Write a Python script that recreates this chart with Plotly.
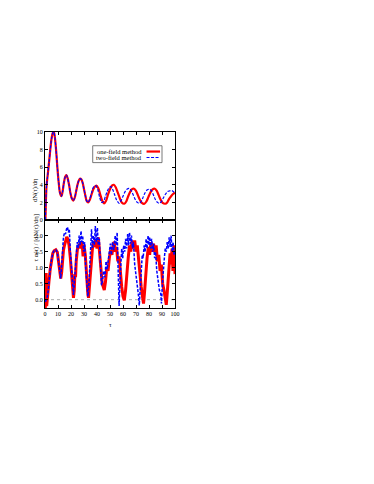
import plotly.graph_objects as go

# ---------------- data ----------------
# top panel: dN/deta
tau_top_one = [0.3, 1.2, 2, 3, 4, 5, 6, 6.8, 7.5, 8.5, 9.5, 10.5, 11.5, 12.6, 13.5, 14.5, 15.5, 16.5,
               17.5, 18.5, 19.5, 20.5, 21.8, 23, 24, 25, 26, 27, 28, 29, 30, 31, 32, 33.2, 34.5, 36,
               37.5, 39.5, 41, 42.5, 44, 45.5, 47, 48.5, 50, 51.5, 53, 54.5, 56, 57.5, 59, 61, 62.5,
               64, 65.5, 67, 68.5, 70, 71.5, 73, 74.5, 76.5, 78, 79.5, 81, 82.5, 84.5, 86, 87.5, 89,
               90.5, 92.5, 94, 95.5, 97, 98.5, 100]
dn_one = [0, 3.9, 5.0, 6.4, 7.9, 9.2, 9.9, 10.0, 9.5, 8.0, 6.0, 4.3, 3.1, 2.7, 3.2, 4.2, 4.9, 5.1,
          4.7, 4.0, 3.1, 2.5, 2.2, 2.6, 3.3, 4.0, 4.5, 4.7, 4.6, 4.2, 3.5, 2.8, 2.2, 2.0, 2.3, 3.0,
          3.6, 3.9, 3.6, 2.9, 2.2, 1.9, 2.2, 2.9, 3.5, 3.9, 4.0, 3.7, 3.1, 2.5, 2.0, 1.85, 2.1,
          2.7, 3.2, 3.5, 3.55, 3.3, 2.8, 2.3, 1.95, 1.85, 2.1, 2.6, 3.1, 3.45, 3.55, 3.3, 2.8, 2.3,
          1.95, 1.85, 2.0, 2.4, 2.7, 2.95, 3.1]

tau_top_two = [0.3, 1.2, 2, 3, 4, 5, 6, 6.8, 7.5, 8.5, 9.5, 10.5, 11.5, 12.6, 13.5, 14.5, 15.5, 16.5,
               17.5, 18.5, 19.5, 20.5, 21.8, 23, 24, 25, 26, 27, 28, 29, 30, 31, 32, 33.2, 34.5, 36,
               37.5, 39, 40.5, 42, 43.5, 45, 46.5, 48, 49.5, 50.7, 52, 53.5, 55, 57, 58.5, 60, 61.5,
               63, 64.8, 66.5, 68, 69.5, 71, 72.5, 74, 75.5, 77, 78.5, 80.3, 82, 83.5, 85, 86.5, 88,
               89.5, 91, 92.5, 94, 95.5, 97.5, 99, 100]
dn_two = [0, 3.9, 5.0, 6.4, 7.9, 9.2, 9.9, 10.0, 9.5, 8.0, 6.0, 4.3, 3.1, 2.7, 3.2, 4.2, 4.9, 5.1,
          4.7, 4.0, 3.1, 2.5, 2.2, 2.6, 3.3, 4.0, 4.5, 4.7, 4.6, 4.2, 3.5, 2.8, 2.2, 2.0, 2.4, 3.2,
          3.8, 3.9, 3.5, 2.6, 2.0, 2.1, 2.7, 3.3, 3.7, 3.8, 3.5, 2.9, 2.3, 1.9, 2.2, 2.7, 3.2,
          3.5, 3.6, 3.3, 2.8, 2.3, 2.0, 1.9, 2.1, 2.6, 3.1, 3.4, 3.5, 3.3, 2.8, 2.3, 2.0, 1.9,
          2.1, 2.5, 2.9, 3.2, 3.3, 3.35, 3.2, 3.05]

# bottom panel: tau*alpha / (dN/deta)
tau_bot_one = [0.2, 0.5, 0.9, 1.3, 1.8, 2.5, 3, 4, 5, 6, 7, 8.3, 9.5, 10.5, 11.5, 12.1, 12.8, 13.5,
               14.2, 15, 16, 16.7, 17.5, 18.5, 19.5, 20.5, 21.3, 21.9, 22.5, 23, 23.5, 24, 25, 26,
               26.8, 27.5, 28.5, 29.3, 30, 31, 32, 33, 33.5, 34.2, 35, 35.8, 36.5, 37.5, 38.3, 39,
               40, 41, 42, 43, 44, 45.6, 46.5, 47.5, 48.5, 49.5, 50.5, 51.5, 52.5, 53.3, 54, 55, 56,
               57, 58, 59, 60, 61, 62, 63, 64, 65, 66, 67, 68, 69, 70, 71, 72, 73, 74, 75, 75.8,
               76.5, 77.5, 78.5, 79.5, 80.5, 81.5, 82.5, 83.5, 84.5, 85.5, 86.5, 87.5, 88.5, 89.5,
               90.5, 91.5, 92.5, 93.3, 94, 94.7, 95.5, 96.2, 97, 97.7, 98.4, 99.2, 100]
ratio_one = [-0.3, 0.83, 0.83, -0.2, 0.1, 0.3, 0.55, 0.95, 1.25, 1.45, 1.53, 1.56, 1.48, 1.2, 0.8,
             0.66, 0.85, 1.35, 1.55, 1.7, 1.85, 1.96, 1.9, 1.7, 1.3, 0.8, 0.3, 0.06, 0.3, 0.8, 0.7,
             1.2, 1.6, 1.7, 1.75, 1.6, 1.8, 1.35, 1.7, 1.4, 0.7, 0.15, 0.06, 0.4, 0.9, 1.3, 1.6,
             1.8, 1.65, 1.9, 1.6, 1.95, 1.5, 1.0, 0.5, 0.3, 0.55, 1.0, 0.9, 1.3, 1.55, 1.4, 1.75,
             1.8, 1.5, 1.65, 1.2, 1.35, 0.8, 0.4, 0.1, -0.02, 0.3, 0.9, 1.3, 1.7, 1.5, 1.85, 1.6,
             1.85, 1.5, 1.7, 1.2, 0.9, 0.4, 0.1, -0.12, 0.2, 0.8, 1.3, 1.65, 1.4, 1.8, 1.5, 1.75,
             1.5, 1.7, 1.2, 1.4, 0.9, 1.1, 0.5, 0.3, 0.1, -0.16, 0.2, 0.7, 1.0, 1.45, 1.1, 1.6,
             0.9, 1.7, 0.8, 1.3]

tau_bot_two = [0.3, 1, 1.8, 2.5, 3, 4, 5, 6, 7, 8.3, 9.5, 10.5, 11.5, 12.1, 13, 13.5, 14.2, 15, 15.8,
               16.5, 17.3, 18, 18.7, 19.5, 20.5, 21.3, 21.9, 22.5, 23.2, 24, 24.8, 25.5, 26.3, 27,
               27.7, 28.4, 29, 29.7, 30.5, 31.3, 32.2, 33, 33.8, 34.5, 35.2, 35.8, 36.5, 37.3, 38,
               38.7, 39.5, 40.3, 41, 41.8, 42.5, 43.5, 44.3, 45, 46, 47, 47.8, 48.6, 49.5, 50.3, 51,
               52, 53, 54, 55, 55.5, 56, 56.5, 57, 57.6, 58.3, 59, 59.8, 60.5, 61.3, 62, 62.8, 63.6,
               64.3, 65, 65.8, 66.5, 67.3, 68, 69, 70, 71, 72, 72.5, 73.2, 74, 74.8, 75.5, 76.3, 77,
               77.8, 78.5, 79.3, 80, 80.5, 81.3, 82, 82.8, 83.5, 84.3, 85, 86, 87, 88, 89, 89.6,
               90.3, 91, 91.8, 92.5, 93.3, 94, 94.8, 95.5, 96.3, 97, 97.8, 98.5, 99.3, 100]
ratio_two = [-0.07, 0.0, 0.1, 0.3, 0.55, 0.95, 1.25, 1.45, 1.53, 1.56, 1.48, 1.2, 0.8, 0.66, 1.2,
             1.7, 1.95, 2.1, 2.05, 2.2, 2.27, 2.1, 2.2, 1.5, 0.9, 0.4, 0.15, 0.5, 1.0, 1.4, 1.8,
             1.6, 2.0, 1.7, 2.15, 1.8, 2.0, 1.5, 1.8, 1.0, 0.4, 0.1, 0.5, 1.1, 1.8, 2.2, 1.6, 2.0,
             1.7, 2.3, 1.8, 2.25, 1.7, 1.9, 1.2, 0.45, 0.6, 0.9, 0.7, 1.2, 0.95, 1.3, 1.5, 1.75,
             1.4, 1.8, 1.55, 2.0, 1.7, 2.1, 1.2, 0.4, -0.2, 0.5, 1.2, 1.6, 1.3, 1.7, 1.5, 1.9, 1.6,
             2.05, 1.7, 2.1, 1.75, 2.0, 1.6, 1.8, 1.1, 0.8, 0.4, 0.1, -0.18, 0.4, 1.0, 1.4, 1.3,
             1.7, 1.5, 1.9, 1.6, 2.0, 1.7, 1.96, 1.6, 1.9, 1.5, 1.75, 1.3, 1.5, 0.9, 0.5, 0.3,
             0.2, -0.12, 0.5, 1.0, 1.3, 1.6, 1.5, 1.8, 1.6, 1.95, 1.65, 2.0, 1.5, 1.8, 1.4, 1.6]

x_ticks = [0, 10, 20, 30, 40, 50, 60, 70, 80, 90, 100]
y_top_ticks = [0, 2, 4, 6, 8, 10]
y_bot_ticks = [0.0, 0.5, 1.0, 1.5, 2.0]
legend_labels = ["one-field method", "two-field method"]

RED = "#ff0000"
BLUE = "#0000ff"
FONT = "Liberation Serif"

fig = go.Figure()
fig.add_trace(go.Scatter(x=tau_top_one, y=dn_one, mode="lines", xaxis="x", yaxis="y",
                         line=dict(color=RED, width=2.2, shape="spline", smoothing=0.8),
                         showlegend=False))
fig.add_trace(go.Scatter(x=tau_top_two, y=dn_two, mode="lines", xaxis="x", yaxis="y",
                         line=dict(color=BLUE, width=1.2, dash="3px,1.5px", shape="spline",
                                   smoothing=0.8),
                         showlegend=False))
fig.add_trace(go.Scatter(x=tau_bot_one, y=ratio_one, mode="lines", xaxis="x2", yaxis="y2",
                         line=dict(color=RED, width=3), showlegend=False))
fig.add_trace(go.Scatter(x=tau_bot_two, y=ratio_two, mode="lines", xaxis="x2", yaxis="y2",
                         line=dict(color=BLUE, width=1.5, dash="3px,1.5px"), showlegend=False))

axis_common = dict(showline=True, linecolor="black", linewidth=1, mirror="ticks", ticks="inside",
                   ticklen=3, tickcolor="black", showgrid=False, zeroline=False,
                   tickfont=dict(family=FONT, size=6, color="black"))

# the page body adds an 8px offset, so margins are reduced by 8px on left/top
fig.update_layout(
    width=374, height=484,
    margin=dict(l=37, r=207, t=124, b=184),
    paper_bgcolor="white", plot_bgcolor="white",
    font=dict(family=FONT, size=6, color="black"),
    xaxis=dict(domain=[0, 1], anchor="y", range=[0, 100], tickvals=x_ticks,
               showticklabels=False, **axis_common),
    yaxis=dict(domain=[0.5, 1], anchor="x", range=[0, 10], tickvals=y_top_ticks,
               ticktext=[str(v) for v in y_top_ticks], **axis_common),
    xaxis2=dict(domain=[0, 1], anchor="y2", range=[0, 100], tickvals=x_ticks,
                ticktext=[str(v) for v in x_ticks], **axis_common),
    yaxis2=dict(domain=[0, 0.5], anchor="x2", range=[-0.26, 2.49], tickvals=y_bot_ticks,
                ticktext=["%.1f" % v for v in y_bot_ticks], **axis_common),
)

# zero reference line in the lower panel
fig.add_shape(type="line", xref="x2 domain", yref="y2", x0=0, x1=1, y0=0, y1=0,
              line=dict(color="#aaaaaa", width=1, dash="dot"), layer="below")

# axis titles
fig.add_annotation(text="dN(τ)/dη", xref="paper", yref="paper", x=0, y=0.75, xshift=-16,
                   textangle=-90, showarrow=False, font=dict(family=FONT, size=6.5))
fig.add_annotation(text="τ α(τ) / [dN(τ)/dη]", xref="paper", yref="paper", x=0, y=0.25,
                   xshift=-16, textangle=-90, showarrow=False, font=dict(family=FONT, size=6.5))
fig.add_annotation(text="τ", xref="paper", yref="paper", x=0.5, y=0, yanchor="top", yshift=-11,
                   showarrow=False, font=dict(family=FONT, size=6.5))

# gnuplot-style legend box (text left, sample right)
fig.add_shape(type="rect", xref="paper", yref="paper", x0=0.367, x1=0.9, y0=0.826, y1=0.922,
              line=dict(color="#555555", width=0.8), fillcolor="white", layer="above")
legend_rows = [(0.889, RED, None, 2.2), (0.855, BLUE, "3px,1.5px", 1.2)]
for label, (yy, col, dash, w) in zip(legend_labels, legend_rows):
    fig.add_annotation(text=label, xref="paper", yref="paper", x=0.765, y=yy, xanchor="right",
                       yanchor="middle", showarrow=False, font=dict(family=FONT, size=6.5))
    fig.add_shape(type="line", xref="paper", yref="paper", x0=0.781, x1=0.885, y0=yy, y1=yy,
                  line=dict(color=col, width=w, dash=dash), layer="above")

fig.write_html("out.html")
